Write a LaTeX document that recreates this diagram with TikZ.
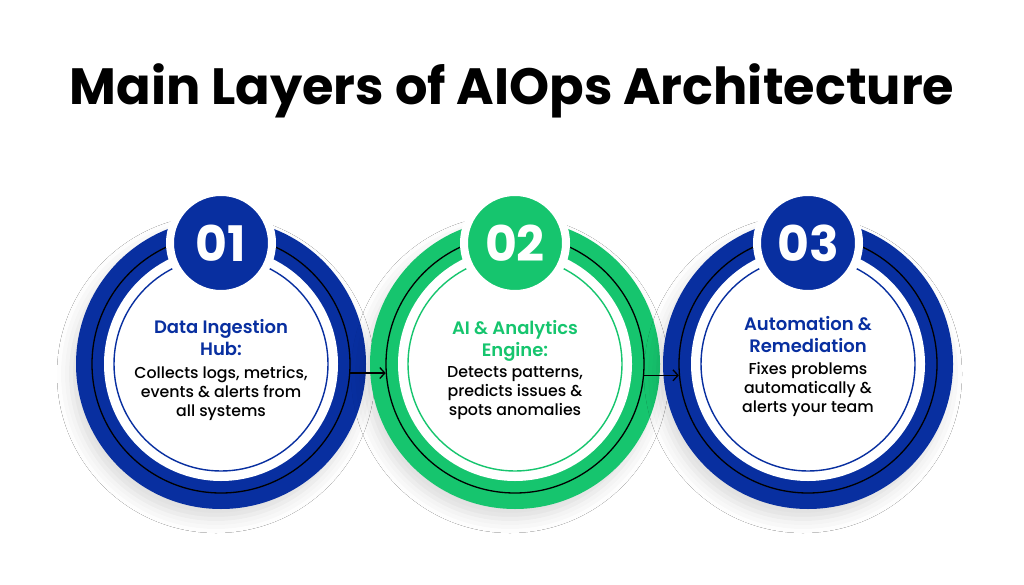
\documentclass[tikz,border=0pt]{standalone}
\usepackage{fontspec}
\setmainfont{Poppins}
\newfontfamily\titlefont{Poppins Bold}
\newfontfamily\headfont{Poppins SemiBold}
\newfontfamily\bodyfont{Poppins Medium}
\usetikzlibrary{arrows.meta,positioning,shadows.blur}
\definecolor{LayerBlue}{RGB}{8,47,160}
\definecolor{LayerGreen}{RGB}{22,197,110}

\begin{document}
\begin{tikzpicture}[x=1pt,y=-1pt,
  outer/.style={circle,minimum size=290pt,inner sep=0pt,fill=#1,
    blur shadow={shadow blur radius=14pt,shadow opacity=14,shadow xshift=-5pt,shadow yshift=-10pt}},
  ring/.style={circle,minimum size=258pt,inner sep=0pt,draw=black,line width=1.3pt},
  hole/.style={circle,minimum size=234pt,inner sep=0pt,fill=white},
  thin/.style={circle,minimum size=214pt,inner sep=0pt,draw=#1,line width=1.4pt},
  badge/.style={circle,minimum size=102pt,inner sep=0pt,fill=#1,draw=white,line width=8pt,
    text=white,font=\titlefont\fontsize{49}{49}\selectfont},
  head/.style={align=center,text=#1,font=\headfont\fontsize{18}{22}\selectfont,inner sep=0pt,anchor=north},
  body/.style={align=center,text=black,font=\bodyfont\fontsize{15.8}{19}\selectfont,inner sep=0pt,anchor=north},
  flow/.style={-{Straight Barb[length=5pt,width=11pt]},line width=1.3pt}]

\useasboundingbox[fill=white] (0,0) rectangle (1024,585);

\node[font=\titlefont\fontsize{51}{51}\selectfont,anchor=base] (title) at (512,105) {Main Layers of AIOps Architecture};

% the three layers
\node[outer=LayerBlue] (disc1) at (221,364) {};
\node[outer=LayerGreen] (disc2) at (515,364) {};
\node[outer=LayerBlue] (disc3) at (808,364) {};

\node[ring] (ring1) at (disc1) {};
\node[ring] (ring2) at (disc2) {};
\node[ring] (ring3) at (disc3) {};

\node[hole] (hole1) at (disc1) {};
\node[hole] (hole2) at (disc2) {};
\node[hole] (hole3) at (disc3) {};

\node[thin=LayerBlue] (line1) at (disc1) {};
\node[thin=LayerGreen] (line2) at (disc2) {};
\node[thin=LayerBlue] (line3) at (disc3) {};

\node[badge=LayerBlue] (num1) at (221,243) {01};
\node[badge=LayerGreen] (num2) at (515,243) {02};
\node[badge=LayerBlue] (num3) at (808,243) {03};

\node[head=LayerBlue] (head1) at (221,319) {Data Ingestion\\Hub:};
\node[body] (text1) at (221,366) {Collects logs, metrics,\\events \& alerts from\\all systems};

\node[head=LayerGreen] (head2) at (515,320) {AI \& Analytics\\Engine:};
\node[body] (text2) at (515,366) {Detects patterns,\\predicts issues \&\\spots anomalies};

\node[head=LayerBlue] (head3) at (808,316) {Automation \&\\Remediation};
\node[body] (text3) at (808,362) {Fixes problems\\automatically \&\\alerts your team};

\draw[flow] (ring1.-4) -- (ring2.184);
\draw[flow] (ring2.-5) -- (ring3.185);

\end{tikzpicture}
\end{document}
